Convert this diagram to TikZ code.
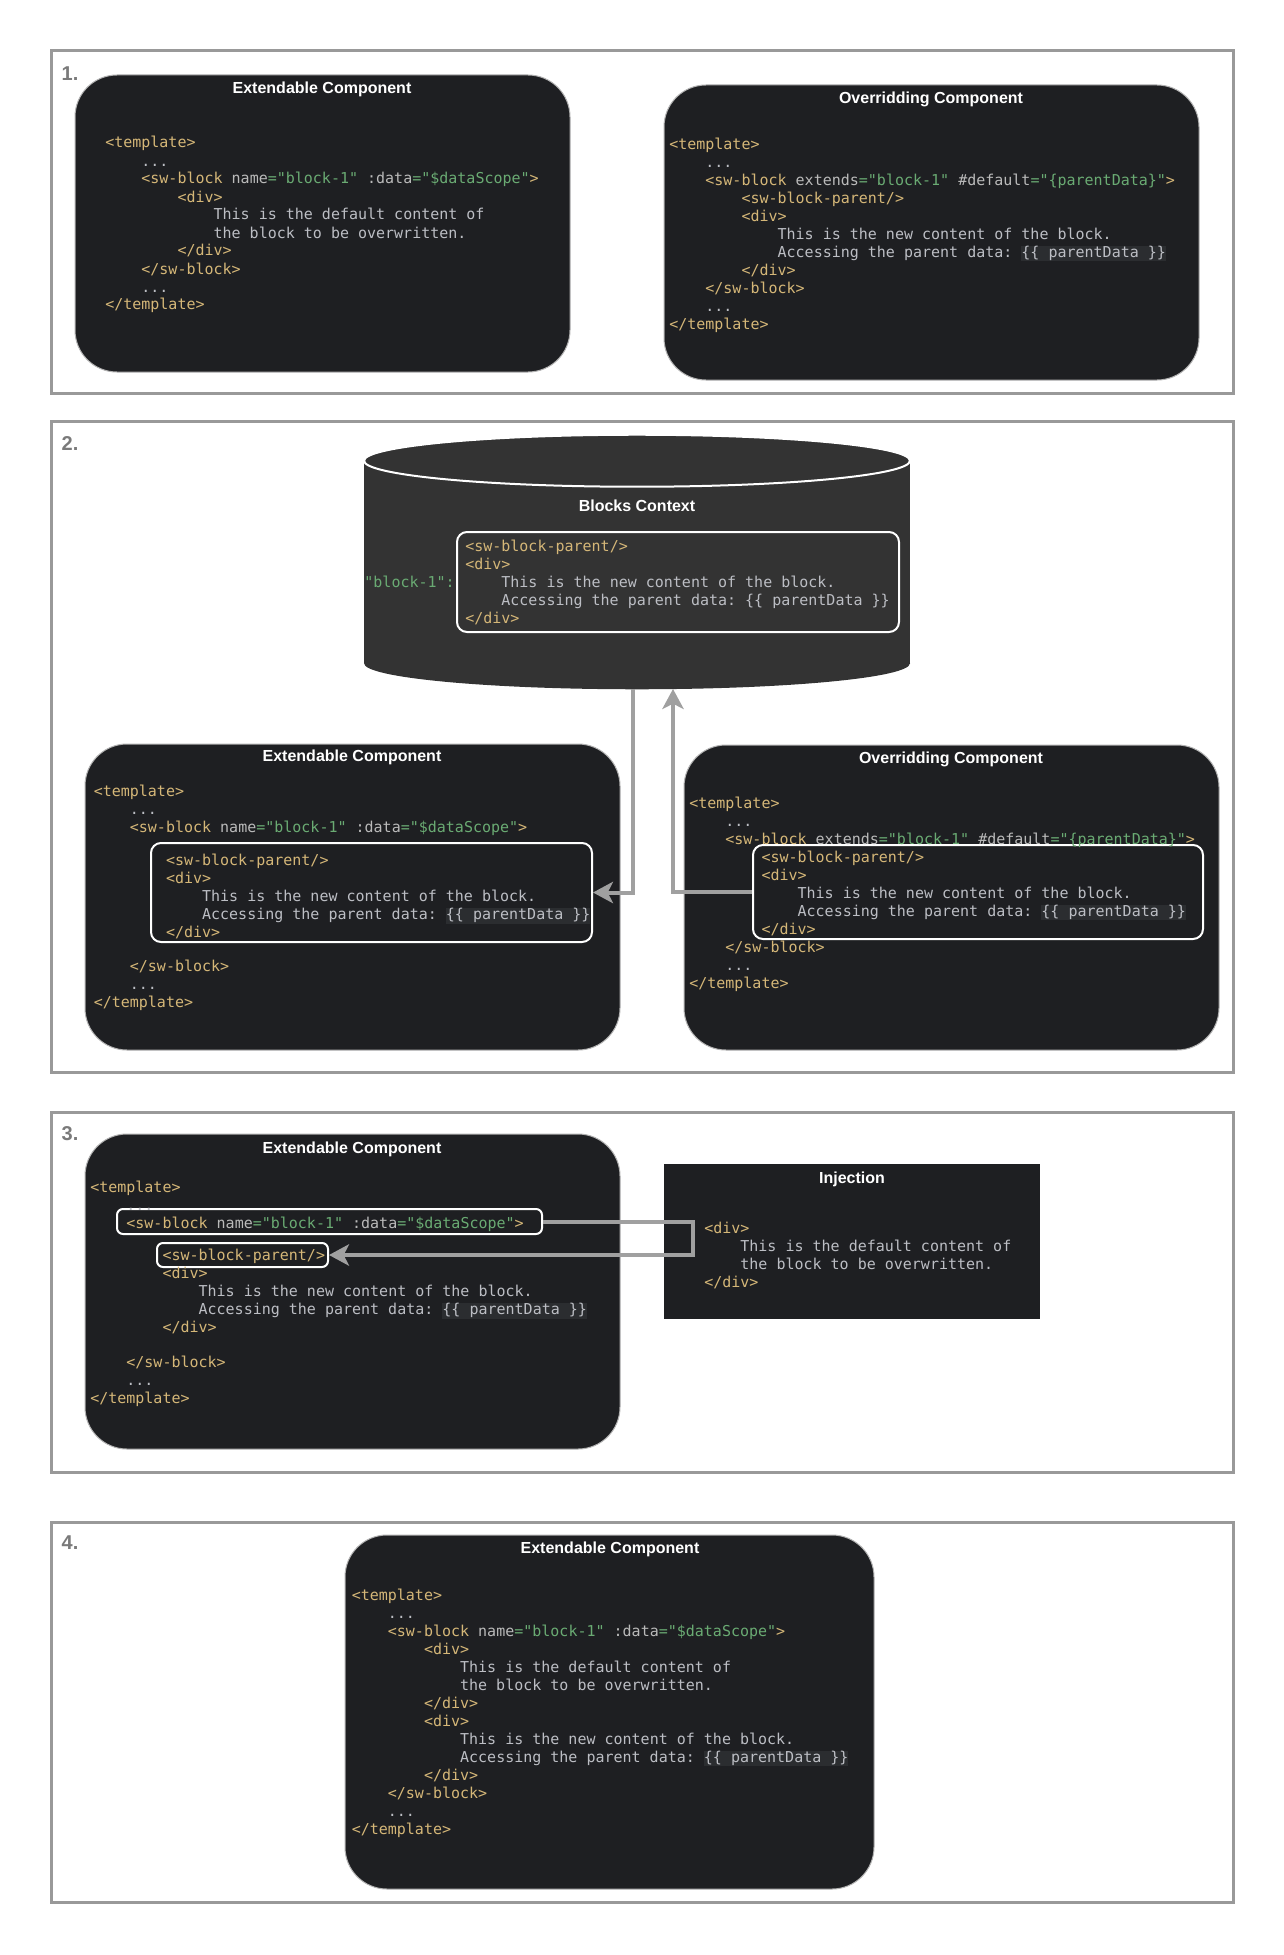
\documentclass[tikz,border=0pt]{standalone}
\usepackage{fontspec}
\setmainfont{Liberation Sans}
\newfontfamily\codefont{DejaVu Sans Mono}
\usetikzlibrary{arrows.meta,fit}

\definecolor{blockbg}{HTML}{1E1F22}
\definecolor{ctxbg}{HTML}{333333}
\definecolor{hlc}{HTML}{2B2D30}
\definecolor{tagc}{HTML}{D5B778}
\definecolor{attrc}{HTML}{BABABA}
\definecolor{strc}{HTML}{6AAB73}
\definecolor{codetext}{HTML}{BCBEC4}
\definecolor{framec}{HTML}{999999}
\definecolor{connc}{HTML}{A0A0A0}
\definecolor{labelc}{HTML}{7A7A7A}

\newcommand{\ctag}[1]{\textcolor{tagc}{#1}}
\newcommand{\cattr}[1]{\textcolor{attrc}{#1}}
\newcommand{\cval}[1]{\textcolor{strc}{#1}}
\newcommand{\chl}[1]{{\setlength{\fboxsep}{0pt}\colorbox{hlc}{\rule[-2.9pt]{0pt}{11.25pt}#1}}}
\newcommand{\ind}[1]{\hspace*{#1\dimexpr 2.408em\relax}}
\newcommand{\monospace}{\spaceskip=0.602em\relax\xspaceskip=0.602em\relax}
\newcommand{\swname}{\ctag{<sw-block} \cattr{name}\cval{="block-1"} \cattr{:data}\cval{="\$dataScope"}\ctag{>}}
\newcommand{\swext}{\ctag{<sw-block} \cattr{extends}\cval{="block-1"} \cattr{\#default}\cval{="\{parentData\}"}\ctag{>}}
\newcommand{\pdata}{\chl{\{\{ parentData \}\}}}

\tikzset{
  secframe/.style={draw=framec, line width=2.25pt, inner sep=0pt},
  seclabel/.style={text=labelc, inner sep=0pt, font=\bfseries\fontsize{15pt}{18pt}\selectfont},
  block/.style={fill=blockbg, draw=gray!60, line width=0.75pt, rounded corners=31.5pt, inner sep=0pt},
  plainblock/.style={fill=blockbg, inner sep=0pt},
  ctxbody/.style={fill=ctxbg, inner sep=0pt},
  title/.style={text=white, inner sep=0pt, font=\bfseries\fontsize{12pt}{14pt}\selectfont},
  code/.style={anchor=base west, inner sep=0pt, text=codetext, align=left, text width=400pt,
    font=\codefont\fontsize{11.25pt}{13.5pt}\selectfont\frenchspacing\monospace,
    execute at begin node=\monospace},
  codekey/.style={anchor=base east, inner sep=0pt, font=\codefont\fontsize{11.25pt}{13.5pt}\selectfont},
  innerbox/.style={draw=white, line width=1.5pt, rounded corners=7.5pt, inner sep=0pt},
  tagbox/.style={draw=white, line width=1.5pt, rounded corners=4.5pt, inner sep=0pt},
  conn/.style={draw=connc, line width=3pt, -{Stealth[length=15pt,width=16pt,inset=4pt]}}
}

\begin{document}
\begin{tikzpicture}[x=0.75pt,y=-0.75pt]
\useasboundingbox (0,0) rectangle (1284,1955);
\fill[white] (0,0) rectangle (1284,1955);

% frames
\node[secframe, fit={(51,51) (1233,393)}] (sec1) {};
\node[secframe, fit={(51,421) (1233,1072)}] (sec2) {};
\node[secframe, fit={(51,1112) (1233,1472)}] (sec3) {};
\node[secframe, fit={(51,1522) (1233,1902)}] (sec4) {};
\node[seclabel] (lbl1) at (70,74) {1.};
\node[seclabel] (lbl2) at (70,444) {2.};
\node[seclabel] (lbl3) at (70,1134) {3.};
\node[seclabel] (lbl4) at (70,1543) {4.};

% 1.
\node[block, fit={(75,75) (570,372)}] (ext1) {};
\node[title] (t1a) at (322,89.5) {Extendable Component};
\node[code] (code1a) at (105,148) {\ctag{<template>}\\
\ind{1}...\\
\ind{1}\swname\\
\ind{2}\ctag{<div>}\\
\ind{3}This is the default content of\\
\ind{3}the block to be overwritten.\\
\ind{2}\ctag{</div>}\\
\ind{1}\ctag{</sw-block>}\\
\ind{1}...\\
\ctag{</template>}};

\node[block, fit={(664,85) (1199,380)}] (ovr1) {};
\node[title] (t1b) at (931,99.5) {Overridding Component};
\node[code] (code1b) at (669,149.5) {\ctag{<template>}\\
\ind{1}...\\
\ind{1}\swext\\
\ind{2}\ctag{<sw-block-parent/>}\\
\ind{2}\ctag{<div>}\\
\ind{3}This is the new content of the block.\\
\ind{3}Accessing the parent data: \pdata\\
\ind{2}\ctag{</div>}\\
\ind{1}\ctag{</sw-block>}\\
\ind{1}...\\
\ctag{</template>}};

% 2.
\node[ctxbody, fit={(364,461) (910,663)}] (ctx) {};
\fill[ctxbg] (ctx.south) ellipse [x radius=204.75pt, y radius=19.5pt];
\filldraw[fill=ctxbg, draw=white, line width=1.5pt] (ctx.north) ellipse [x radius=204.75pt, y radius=19.5pt];
\coordinate (ctxbase) at (637,689);
\node[title] (tctx) at (637,506) {Blocks Context};
\node[innerbox, fit={(457,532) (899,632)}] (ctxinner) {};
\node[codekey] (ctxkey) at (455,587.5) {\cval{"block-1":}};
\node[code] (codectx) at (465,551.5) {\ctag{<sw-block-parent/>}\\
\ctag{<div>}\\
\ind{1}This is the new content of the block.\\
\ind{1}Accessing the parent data: \{\{ parentData \}\}\\
\ctag{</div>}};

\node[block, fit={(85,744) (620,1050)}] (ext2) {};
\node[title] (t2a) at (352,757.5) {Extendable Component};
\node[innerbox, fit={(151,843) (592,942)}] (inner2a) {};
\node[code] (code2a) at (93.5,796.5) {\ctag{<template>}\\
\ind{1}...\\
\ind{1}\swname\\[11.5pt]
\ind{2}\ctag{<sw-block-parent/>}\\
\ind{2}\ctag{<div>}\\
\ind{3}This is the new content of the block.\\
\ind{3}Accessing the parent data: \pdata\\
\ind{2}\ctag{</div>}\\[11.5pt]
\ind{1}\ctag{</sw-block>}\\
\ind{1}...\\
\ctag{</template>}};

\node[block, fit={(684,745) (1219,1050)}] (ovr2) {};
\node[title] (t2b) at (951,759.5) {Overridding Component};
\node[innerbox, fit={(753,845) (1203,939)}] (inner2b) {};
\node[code] (code2b) at (689,808.5) {\ctag{<template>}\\
\ind{1}...\\
\ind{1}\swext\\
\ind{2}\ctag{<sw-block-parent/>}\\
\ind{2}\ctag{<div>}\\
\ind{3}This is the new content of the block.\\
\ind{3}Accessing the parent data: \pdata\\
\ind{2}\ctag{</div>}\\
\ind{1}\ctag{</sw-block>}\\
\ind{1}...\\
\ctag{</template>}};

% 3.
\node[block, fit={(85,1134) (620,1449)}] (ext3) {};
\node[title] (t3a) at (352,1149.5) {Extendable Component};
\node[tagbox, fit={(117,1209) (542,1234)}] (swbox3) {};
\node[tagbox, fit={(157,1243) (328,1267)}] (parentbox3) {};
\node[code] (code3a) at (90,1192) {\ctag{<template>}\\
\ind{1}...\\
\ind{1}\swname\\[11pt]
\ind{2}\ctag{<sw-block-parent/>}\\
\ind{2}\ctag{<div>}\\
\ind{3}This is the new content of the block.\\
\ind{3}Accessing the parent data: \pdata\\
\ind{2}\ctag{</div>}\\[12.5pt]
\ind{1}\ctag{</sw-block>}\\
\ind{1}...\\
\ctag{</template>}};

\node[plainblock, fit={(664,1164) (1040,1319)}] (inj3) {};
\node[title] (tinj) at (852,1179) {Injection};
\node[code] (codeinj) at (704,1233) {\ctag{<div>}\\
\ind{1}This is the default content of\\
\ind{1}the block to be overwritten.\\
\ctag{</div>}};

% 4.
\node[block, fit={(345,1535) (874,1889)}] (ext4) {};
\node[title] (t4a) at (610,1549.5) {Extendable Component};
\node[code] (code4a) at (351.5,1600.5) {\ctag{<template>}\\
\ind{1}...\\
\ind{1}\swname\\
\ind{2}\ctag{<div>}\\
\ind{3}This is the default content of\\
\ind{3}the block to be overwritten.\\
\ind{2}\ctag{</div>}\\
\ind{2}\ctag{<div>}\\
\ind{3}This is the new content of the block.\\
\ind{3}Accessing the parent data: \pdata\\
\ind{2}\ctag{</div>}\\
\ind{1}\ctag{</sw-block>}\\
\ind{1}...\\
\ctag{</template>}};

% connectors
\coordinate (bendA) at (633,890);
\coordinate (bendB) at (673,890);
\coordinate (bend3) at (693,1238);
\draw[conn] (ctxbase -| bendA) -- (inner2a.east -| bendA) -- (inner2a.east);
\draw[conn] (inner2b.west) -- (inner2b.west -| bendB) -- (ctxbase -| bendB);
\draw[conn] (swbox3.east) -- (swbox3.east -| bend3) -- (parentbox3.east -| bend3) -- (parentbox3.east);
\end{tikzpicture}
\end{document}
